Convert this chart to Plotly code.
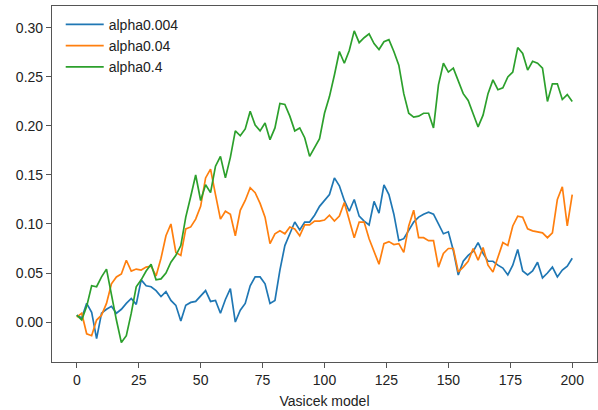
import plotly.graph_objects as go

steps = list(range(0, 201, 2))

alpha_0004 = [0.007, 0.004, 0.019, 0.010, -0.017, 0.009, 0.013, 0.016, 0.009, 0.013,
              0.019, 0.024, 0.018, 0.043, 0.037, 0.036, 0.032, 0.026, 0.031, 0.022,
              0.017, 0.001, 0.017, 0.020, 0.021, 0.026, 0.032, 0.021, 0.022, 0.009,
              0.023, 0.034, 0.000, 0.012, 0.019, 0.037, 0.046, 0.046, 0.039, 0.019,
              0.022, 0.053, 0.078, 0.090, 0.102, 0.094, 0.102, 0.102, 0.109, 0.118,
              0.124, 0.130, 0.147, 0.139, 0.124, 0.113, 0.125, 0.108, 0.103, 0.099,
              0.123, 0.111, 0.140, 0.130, 0.110, 0.083, 0.085, 0.094, 0.102, 0.107,
              0.110, 0.112, 0.110, 0.100, 0.090, 0.092, 0.073, 0.048, 0.062, 0.068,
              0.072, 0.081, 0.070, 0.062, 0.062, 0.058, 0.055, 0.048, 0.058, 0.074,
              0.052, 0.048, 0.052, 0.061, 0.045, 0.050, 0.056, 0.046, 0.053, 0.057,
              0.065]

alpha_004 = [0.005, 0.009, -0.012, -0.014, 0.002, 0.007, 0.019, 0.039, 0.046, 0.049,
             0.063, 0.052, 0.054, 0.053, 0.056, 0.057, 0.047, 0.065, 0.088, 0.100,
             0.071, 0.068, 0.095, 0.097, 0.105, 0.118, 0.147, 0.156, 0.130, 0.105,
             0.113, 0.110, 0.088, 0.114, 0.124, 0.137, 0.132, 0.121, 0.107, 0.080,
             0.090, 0.093, 0.090, 0.097, 0.095, 0.088, 0.099, 0.099, 0.103, 0.103,
             0.104, 0.109, 0.103, 0.108, 0.122, 0.105, 0.086, 0.102, 0.102, 0.085,
             0.071, 0.059, 0.080, 0.082, 0.079, 0.080, 0.071, 0.098, 0.114, 0.086,
             0.086, 0.083, 0.083, 0.056, 0.070, 0.075, 0.075, 0.051, 0.056, 0.062,
             0.075, 0.063, 0.076, 0.058, 0.051, 0.065, 0.081, 0.078, 0.098, 0.108,
             0.107, 0.095, 0.093, 0.092, 0.091, 0.086, 0.091, 0.125, 0.138, 0.098,
             0.130]

alpha_04 = [0.007, 0.002, 0.016, 0.037, 0.036, 0.046, 0.054, 0.026, 0.002, -0.021,
            -0.014, 0.009, 0.036, 0.043, 0.052, 0.059, 0.043, 0.044, 0.050, 0.061,
            0.068, 0.078, 0.107, 0.128, 0.150, 0.124, 0.140, 0.132, 0.159, 0.169,
            0.147, 0.168, 0.195, 0.190, 0.197, 0.215, 0.201, 0.195, 0.203, 0.186,
            0.198, 0.223, 0.222, 0.210, 0.195, 0.198, 0.188, 0.169, 0.178, 0.187,
            0.213, 0.230, 0.252, 0.276, 0.264, 0.277, 0.297, 0.285, 0.290, 0.294,
            0.284, 0.278, 0.286, 0.288, 0.276, 0.262, 0.233, 0.213, 0.209, 0.210,
            0.213, 0.213, 0.198, 0.242, 0.264, 0.255, 0.259, 0.247, 0.233, 0.226,
            0.212, 0.199, 0.211, 0.233, 0.247, 0.237, 0.239, 0.250, 0.255, 0.280,
            0.274, 0.257, 0.266, 0.264, 0.259, 0.225, 0.243, 0.243, 0.227, 0.232,
            0.225]

series_names = ["alpha0.004", "alpha0.04", "alpha0.4"]
series_values = [alpha_0004, alpha_004, alpha_04]
colors = ["#1f77b4", "#ff7f0e", "#2ca02c"]

x_ticks = [0, 25, 50, 75, 100, 125, 150, 175, 200]
y_ticks = [0.00, 0.05, 0.10, 0.15, 0.20, 0.25, 0.30]

fig = go.Figure()
for name, vals, col in zip(series_names, series_values, colors):
    fig.add_trace(go.Scatter(x=steps, y=vals, mode="lines", name=name,
                             line=dict(color=col, width=1.7)))

axis_common = dict(showgrid=False, zeroline=False, showline=True, mirror=True,
                   automargin=False,
                   linecolor="#555555", linewidth=1.2, ticks="outside", ticklen=5,
                   tickwidth=1.2, tickcolor="#555555",
                   tickfont=dict(family="Liberation Sans, Arial, sans-serif", size=14, color="#222222"))

fig.update_layout(
    width=598, height=410,
    margin=dict(l=52, r=1, t=6, b=48),
    paper_bgcolor="white", plot_bgcolor="white",
    font=dict(family="Liberation Sans, Arial, sans-serif", size=14, color="#222222"),
    xaxis=dict(range=[-10, 210], tickvals=x_ticks,
               ticktext=[str(v) for v in x_ticks],
               title=dict(text="Vasicek model", standoff=9,
                          font=dict(size=14, color="#222222")),
               **axis_common),
    yaxis=dict(range=[-0.0408, 0.3224], tickvals=y_ticks,
               ticktext=[f"{v:.2f}" for v in y_ticks], **axis_common),
    legend=dict(x=0.016, y=0.992, xanchor="left", yanchor="top",
                bgcolor="rgba(0,0,0,0)", borderwidth=0, itemwidth=38,
                font=dict(size=14, color="#222222"), tracegroupgap=0),
    showlegend=True,
)

fig.write_html("out.html", config={"displayModeBar": False},
               post_script="document.body.style.margin='0';")
